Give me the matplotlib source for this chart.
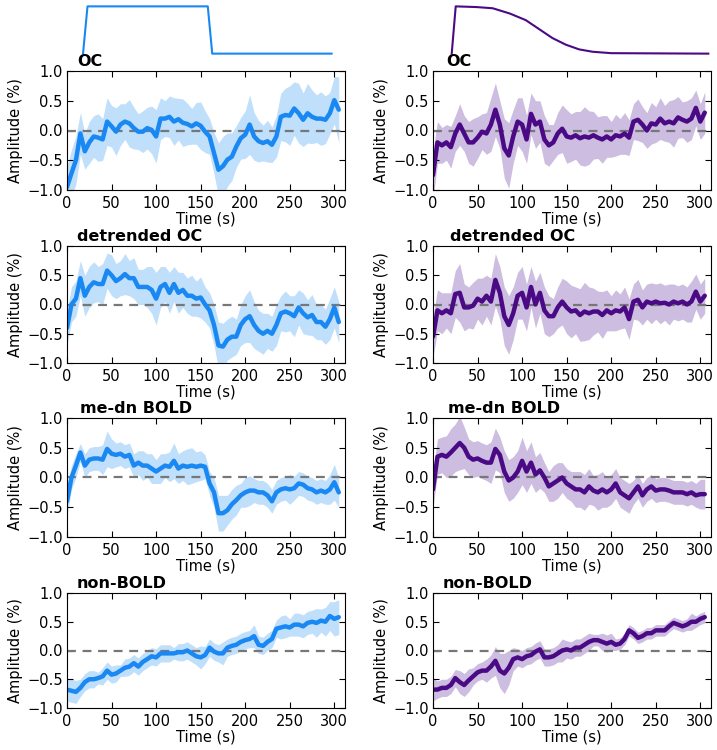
import numpy as np
import matplotlib
matplotlib.use("Agg")
from matplotlib import pyplot as plt

# sample times (s)
times = list(range(0, 310, 5))

titles = ["OC", "detrended OC", "me-dn BOLD", "non-BOLD"]

# left column (boxcar model), mean and half-width of the band
left_mean = [
    [-0.95, -0.72, -0.5, -0.05, -0.35, -0.2, -0.1, -0.12, -0.15, 0.15, 0.07, -0.02,
     0.1, 0.15, 0.12, 0.04, -0.02, -0.02, 0.04, 0.01, -0.1, 0.2, 0.2, 0.23,
     0.15, 0.19, 0.13, 0.11, 0.07, 0.12, 0.08, -0.02, -0.1, -0.38, -0.66, -0.6,
     -0.49, -0.44, -0.27, -0.13, -0.07, 0.1, -0.1, -0.18, -0.21, -0.18, -0.24, -0.1,
     0.23, 0.26, 0.25, 0.37, 0.29, 0.18, 0.29, 0.23, 0.2, 0.2, 0.18, 0.29,
     0.51, 0.35],
    [-0.4, 0.0, 0.1, 0.45, 0.15, 0.3, 0.38, 0.35, 0.35, 0.58, 0.5, 0.4,
     0.45, 0.52, 0.45, 0.45, 0.3, 0.3, 0.3, 0.25, 0.1, 0.3, 0.35, 0.2,
     0.35, 0.2, 0.25, 0.15, 0.15, 0.1, 0.12, 0.0, -0.1, -0.35, -0.7, -0.72,
     -0.6, -0.55, -0.55, -0.35, -0.25, -0.2, -0.35, -0.45, -0.5, -0.45, -0.5, -0.35,
     -0.15, -0.12, -0.15, -0.2, -0.05, -0.15, -0.22, -0.18, -0.3, -0.3, -0.38, -0.25,
     -0.05, -0.3],
    [-0.4, 0.0, 0.2, 0.42, 0.2, 0.3, 0.32, 0.32, 0.3, 0.48, 0.4, 0.38,
     0.4, 0.35, 0.38, 0.2, 0.25, 0.2, 0.2, 0.15, 0.1, 0.15, 0.2, 0.18,
     0.28, 0.15, 0.2, 0.18, 0.2, 0.18, 0.2, 0.18, -0.1, -0.25, -0.6, -0.6,
     -0.55, -0.45, -0.38, -0.3, -0.25, -0.22, -0.22, -0.25, -0.25, -0.3, -0.4, -0.25,
     -0.2, -0.18, -0.2, -0.18, -0.1, -0.12, -0.18, -0.2, -0.25, -0.22, -0.25, -0.2,
     -0.08, -0.25],
    [-0.68, -0.7, -0.72, -0.65, -0.55, -0.5, -0.5, -0.48, -0.45, -0.35, -0.42, -0.4,
     -0.35, -0.3, -0.28, -0.22, -0.28, -0.2, -0.15, -0.1, -0.12, -0.05, -0.05, -0.05,
     -0.05, -0.03, -0.03, 0.0, -0.05, -0.1, -0.12, -0.08, 0.05, -0.02, -0.05, -0.05,
     0.05, 0.08, 0.1, 0.15, 0.18, 0.2, 0.25, 0.1, 0.08, 0.15, 0.2, 0.38,
     0.4, 0.42, 0.4, 0.45, 0.45, 0.42, 0.48, 0.5, 0.48, 0.52, 0.5, 0.6,
     0.55, 0.58],
]
left_band = [
    [0.35, 0.4, 0.4, 0.35, 0.3, 0.35, 0.35, 0.4, 0.35, 0.4, 0.35, 0.4,
     0.35, 0.3, 0.4, 0.35, 0.3, 0.35, 0.35, 0.4, 0.45, 0.35, 0.3, 0.35,
     0.4, 0.35, 0.4, 0.35, 0.3, 0.35, 0.4, 0.35, 0.3, 0.35, 0.45, 0.5,
     0.45, 0.4, 0.35, 0.35, 0.4, 0.5, 0.4, 0.35, 0.3, 0.35, 0.3, 0.35,
     0.4, 0.45, 0.5, 0.45, 0.5, 0.45, 0.5, 0.45, 0.4, 0.45, 0.4, 0.35,
     0.4, 0.55],
    [0.3, 0.3, 0.3, 0.3, 0.35, 0.35, 0.35, 0.3, 0.35, 0.3, 0.35, 0.3,
     0.3, 0.35, 0.3, 0.35, 0.3, 0.3, 0.35, 0.4, 0.45, 0.35, 0.3, 0.35,
     0.3, 0.35, 0.3, 0.3, 0.35, 0.3, 0.35, 0.3, 0.3, 0.35, 0.4, 0.4,
     0.35, 0.35, 0.3, 0.35, 0.4, 0.45, 0.4, 0.35, 0.35, 0.3, 0.3, 0.35,
     0.3, 0.35, 0.3, 0.35, 0.3, 0.35, 0.3, 0.35, 0.3, 0.3, 0.3, 0.35,
     0.35, 0.35],
    [0.25, 0.2, 0.2, 0.15, 0.2, 0.2, 0.2, 0.2, 0.25, 0.3, 0.25, 0.2,
     0.2, 0.2, 0.2, 0.2, 0.2, 0.25, 0.2, 0.25, 0.2, 0.25, 0.2, 0.25,
     0.3, 0.25, 0.25, 0.3, 0.3, 0.25, 0.25, 0.2, 0.2, 0.25, 0.3, 0.3,
     0.25, 0.25, 0.25, 0.2, 0.25, 0.25, 0.2, 0.2, 0.2, 0.2, 0.2, 0.2,
     0.2, 0.2, 0.25, 0.2, 0.2, 0.2, 0.2, 0.2, 0.2, 0.2, 0.2, 0.25,
     0.3, 0.25],
    [0.2, 0.2, 0.2, 0.15, 0.15, 0.15, 0.15, 0.1, 0.15, 0.15, 0.15, 0.15,
     0.1, 0.15, 0.15, 0.15, 0.15, 0.15, 0.15, 0.15, 0.15, 0.15, 0.15, 0.15,
     0.1, 0.15, 0.15, 0.15, 0.15, 0.15, 0.2, 0.15, 0.15, 0.15, 0.15, 0.2,
     0.15, 0.15, 0.15, 0.15, 0.15, 0.15, 0.2, 0.15, 0.15, 0.15, 0.15, 0.15,
     0.2, 0.2, 0.15, 0.2, 0.2, 0.2, 0.2, 0.2, 0.25, 0.2, 0.25, 0.25,
     0.3, 0.3],
]

# right column (smooth decay model)
right_mean = [
    [-0.75, -0.2, -0.25, -0.2, -0.28, -0.05, 0.1, -0.05, -0.2, -0.2, -0.12, -0.02,
     -0.05, 0.1, 0.35, 0.1, -0.3, -0.42, -0.1, 0.15, 0.1, -0.15, 0.28, 0.1,
     0.15, -0.15, -0.25, -0.2, -0.05, 0.03, -0.1, -0.12, -0.08, -0.13, -0.1, -0.12,
     -0.08, -0.12, -0.15, -0.1, -0.15, -0.08, -0.1, -0.05, -0.12, 0.15, 0.18, 0.1,
     0.0, 0.12, 0.1, 0.2, 0.12, 0.15, 0.12, 0.22, 0.18, 0.15, 0.2, 0.38,
     0.15, 0.3],
    [-0.55, -0.1, -0.15, -0.1, -0.15, 0.18, 0.2, -0.05, -0.05, -0.02, 0.1, 0.05,
     0.15, 0.05, 0.42, 0.2, -0.2, -0.35, -0.15, 0.15, 0.2, -0.05, 0.3, 0.0,
     0.2, -0.1, -0.2, -0.2, -0.05, 0.05, -0.05, -0.12, -0.1, -0.18, -0.12, -0.15,
     -0.12, -0.12, -0.18, -0.1, -0.15, -0.1, -0.12, -0.05, -0.25, 0.05, 0.08, -0.05,
     0.05, 0.02, 0.05, 0.02, 0.03, 0.0, 0.05, 0.02, 0.05, 0.0, 0.05, 0.22,
     0.05, 0.15],
    [-0.2, 0.35, 0.38, 0.35, 0.42, 0.5, 0.58, 0.5, 0.35, 0.3, 0.32, 0.28,
     0.25, 0.25, 0.48, 0.38, 0.1, -0.05, 0.0, 0.1, 0.28, 0.1, 0.25, 0.05,
     0.12, 0.0, -0.15, -0.1, -0.05, 0.0, -0.1, -0.15, -0.2, -0.2, -0.25, -0.15,
     -0.22, -0.25, -0.2, -0.25, -0.2, -0.1, -0.25, -0.3, -0.35, -0.25, -0.15, -0.3,
     -0.2, -0.15, -0.22, -0.2, -0.2, -0.22, -0.25, -0.25, -0.25, -0.28, -0.25, -0.3,
     -0.28, -0.28],
    [-0.68, -0.68, -0.65, -0.65, -0.6, -0.48, -0.55, -0.6, -0.52, -0.45, -0.38, -0.35,
     -0.35, -0.28, -0.18, -0.35, -0.4, -0.3, -0.15, -0.12, -0.15, -0.1, -0.08, -0.02,
     0.02, -0.12, -0.12, -0.1, -0.05, 0.0, 0.02, 0.0, 0.05, 0.05, 0.1, 0.15,
     0.18, 0.18, 0.15, 0.12, 0.15, 0.1, 0.12, 0.2, 0.35, 0.3, 0.22, 0.25,
     0.3, 0.3, 0.35, 0.35, 0.35, 0.42, 0.48, 0.45, 0.42, 0.45, 0.5, 0.5,
     0.55, 0.58],
]
right_band = [
    [0.4, 0.35, 0.3, 0.3, 0.35, 0.3, 0.35, 0.3, 0.35, 0.4, 0.35, 0.3,
     0.35, 0.45, 0.45, 0.4, 0.5, 0.55, 0.45, 0.4, 0.45, 0.4, 0.35, 0.4,
     0.35, 0.4, 0.35, 0.3, 0.35, 0.4, 0.45, 0.4, 0.4, 0.45, 0.5, 0.45,
     0.4, 0.35, 0.4, 0.35, 0.3, 0.35, 0.3, 0.35, 0.3, 0.3, 0.35, 0.3,
     0.3, 0.35, 0.3, 0.35, 0.3, 0.35, 0.4, 0.35, 0.3, 0.35, 0.35, 0.3,
     0.3, 0.35],
    [0.35, 0.35, 0.35, 0.3, 0.35, 0.4, 0.5, 0.4, 0.35, 0.4, 0.35, 0.4,
     0.35, 0.4, 0.45, 0.45, 0.5, 0.5, 0.45, 0.4, 0.45, 0.4, 0.35, 0.4,
     0.35, 0.4, 0.35, 0.3, 0.35, 0.4, 0.45, 0.45, 0.4, 0.45, 0.5, 0.45,
     0.4, 0.35, 0.4, 0.35, 0.3, 0.35, 0.3, 0.35, 0.35, 0.3, 0.35, 0.3,
     0.3, 0.35, 0.3, 0.35, 0.3, 0.35, 0.3, 0.3, 0.3, 0.3, 0.35, 0.3,
     0.3, 0.3],
    [0.3, 0.3, 0.3, 0.35, 0.4, 0.4, 0.45, 0.35, 0.3, 0.3, 0.3, 0.3,
     0.3, 0.35, 0.35, 0.3, 0.35, 0.35, 0.35, 0.35, 0.4, 0.35, 0.35, 0.3,
     0.3, 0.25, 0.25, 0.3, 0.3, 0.25, 0.25, 0.25, 0.3, 0.3, 0.3, 0.3,
     0.25, 0.3, 0.3, 0.25, 0.25, 0.25, 0.25, 0.25, 0.25, 0.2, 0.2, 0.2,
     0.2, 0.2, 0.2, 0.2, 0.2, 0.2, 0.2, 0.2, 0.2, 0.2, 0.2, 0.2,
     0.25, 0.25],
    [0.2, 0.15, 0.15, 0.15, 0.15, 0.15, 0.2, 0.2, 0.2, 0.15, 0.15, 0.15,
     0.2, 0.2, 0.25, 0.3, 0.35, 0.3, 0.2, 0.15, 0.15, 0.15, 0.15, 0.15,
     0.15, 0.15, 0.15, 0.15, 0.15, 0.2, 0.15, 0.15, 0.15, 0.15, 0.15, 0.15,
     0.1, 0.1, 0.15, 0.15, 0.15, 0.1, 0.1, 0.1, 0.1, 0.1, 0.1, 0.1,
     0.1, 0.1, 0.1, 0.1, 0.1, 0.1, 0.1, 0.1, 0.1, 0.1, 0.15, 0.1,
     0.1, 0.1],
]

# model schematics on top
step_t = [18, 23, 158, 163, 297]
step_y = [0, 1, 1, 0, 0]
decay_t = [21, 25.5, 49, 67, 86, 104, 119, 134, 149, 164, 179, 200, 309]
decay_y = [0, 1, 0.985, 0.96, 0.85, 0.71, 0.52, 0.33, 0.19, 0.09, 0.04, 0.01, 0.0]

blue = "#1a88f2"
blue_band = "#c0dffb"
purple = "#4b0a85"
purple_band = "#cdbde0"

plt.rcParams["font.family"] = "DejaVu Sans"
plt.rcParams["font.size"] = 10.5
plt.rcParams["xtick.direction"] = "in"
plt.rcParams["ytick.direction"] = "in"
plt.rcParams["xtick.top"] = True
plt.rcParams["ytick.right"] = True
plt.rcParams["xtick.major.size"] = 4
plt.rcParams["ytick.major.size"] = 4
plt.rcParams["xtick.major.pad"] = 4
plt.rcParams["ytick.major.pad"] = 3

fig = plt.figure(figsize=(7.17, 7.5), dpi=100)

W, H = 717.0, 750.0
col_x = [67, 433]
ax_w = 278
rows = [(71, 190), (246, 363), (418, 537), (593, 708)]
title_x = [[0.036, 0.047], [0.036, 0.062], [0.047, 0.054], [0.036, 0.036]]

# schematics
for c, (tt, yy, col) in enumerate([(step_t, step_y, blue), (decay_t, decay_y, purple)]):
    sax = fig.add_axes([col_x[c] / W, 1 - 56 / H, ax_w / W, 52 / H])
    sax.plot(tt, yy, color=col, lw=1.5)
    sax.set_xlim(0, 312)
    sax.set_ylim(-0.05, 1.05)
    sax.axis("off")

for c in range(2):
    means = left_mean if c == 0 else right_mean
    bands = left_band if c == 0 else right_band
    line_col = blue if c == 0 else purple
    band_col = blue_band if c == 0 else purple_band
    for r in range(4):
        top, bot = rows[r]
        ax = fig.add_axes([col_x[c] / W, 1 - bot / H, ax_w / W, (bot - top) / H])
        m = np.array(means[r])
        b = np.array(bands[r])
        ax.fill_between(times, m - b, m + b, color=band_col, lw=0)
        ax.axhline(0, color="#777777", lw=1.6, ls=(0, (4, 3)))
        ax.plot(times, m, color=line_col, lw=3.2, solid_capstyle="round")
        ax.set_xlim(0, 312)
        ax.set_ylim(-1, 1)
        ax.set_xticks([0, 50, 100, 150, 200, 250, 300])
        ax.set_yticks([-1.0, -0.5, 0.0, 0.5, 1.0])
        ax.set_xlabel("Time (s)", labelpad=1)
        ax.set_ylabel("Amplitude (%)", labelpad=3)
        ax.text(title_x[r][c], 1.02, titles[r], transform=ax.transAxes,
                fontsize=11.5, fontweight="bold", ha="left", va="bottom")

fig.savefig("out.png", dpi=100)
